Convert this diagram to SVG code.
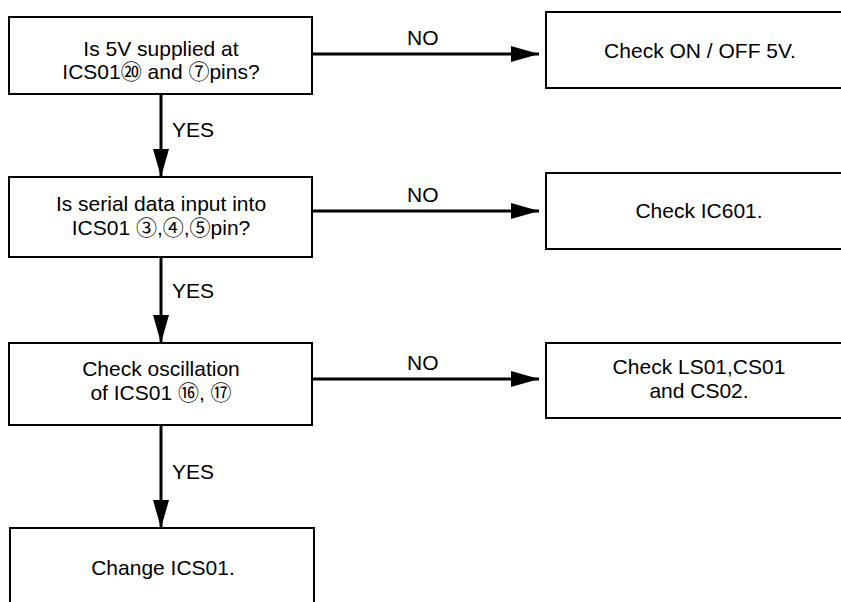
<svg xmlns="http://www.w3.org/2000/svg" width="841" height="602" viewBox="0 0 841 602">
<defs>
<marker id="ah" markerUnits="userSpaceOnUse" markerWidth="30" markerHeight="18" refX="28" refY="8" orient="auto">
<path d="M0,0 L28,8 L0,16 z" fill="#000"/>
</marker>
<style>
.box{fill:#fff;stroke:#000;stroke-width:2}
.t{font-family:"Liberation Sans","Noto Sans CJK JP",sans-serif;font-size:21px;fill:#000;text-anchor:middle}
.l{font-family:"Liberation Sans",sans-serif;font-size:21px;fill:#000}
.c{stroke:#000;stroke-width:3;fill:none;marker-end:url(#ah)}
</style>
</defs>
<rect width="841" height="602" fill="#fff"/>
<g id="connectors">
<line class="c" x1="312" y1="54" x2="539" y2="54"/>
<line class="c" x1="161" y1="94" x2="161" y2="177"/>
<line class="c" x1="312" y1="211" x2="539" y2="211"/>
<line class="c" x1="161" y1="257" x2="161" y2="343"/>
<line class="c" x1="312" y1="379" x2="539" y2="379"/>
<line class="c" x1="161" y1="425" x2="161" y2="528"/>
<text class="l" x="407" y="45">NO</text>
<text class="l" x="407" y="202">NO</text>
<text class="l" x="407" y="370">NO</text>
<text class="l" x="172" y="137">YES</text>
<text class="l" x="172" y="298">YES</text>
<text class="l" x="172" y="479">YES</text>
</g>
<g id="n1">
<rect class="box" x="9" y="17" width="303" height="77"/>
<text class="t" x="161" y="56">Is 5V supplied at</text>
<text class="t" x="161" y="79">ICS01⑳ and ⑦pins?</text>
</g>
<g id="n2">
<rect class="box" x="546" y="12" width="300" height="76"/>
<text class="t" x="700" y="58">Check ON / OFF 5V.</text>
</g>
<g id="n3">
<rect class="box" x="9" y="177" width="303" height="80"/>
<text class="t" x="161" y="211">Is serial data input into</text>
<text class="t" x="161" y="235">ICS01 ③,④,⑤pin?</text>
</g>
<g id="n4">
<rect class="box" x="546" y="173" width="300" height="76"/>
<text class="t" x="699" y="218">Check IC601.</text>
</g>
<g id="n5">
<rect class="box" x="9" y="343" width="303" height="82"/>
<text class="t" x="161" y="376">Check oscillation</text>
<text class="t" x="161" y="400">of ICS01 ⑯, ⑰</text>
</g>
<g id="n6">
<rect class="box" x="546" y="343" width="300" height="75"/>
<text class="t" x="699" y="374">Check LS01,CS01</text>
<text class="t" x="699" y="398">and CS02.</text>
</g>
<g id="n7">
<rect class="box" x="10" y="528" width="304" height="90"/>
<text class="t" x="163" y="575">Change ICS01.</text>
</g>
</svg>
